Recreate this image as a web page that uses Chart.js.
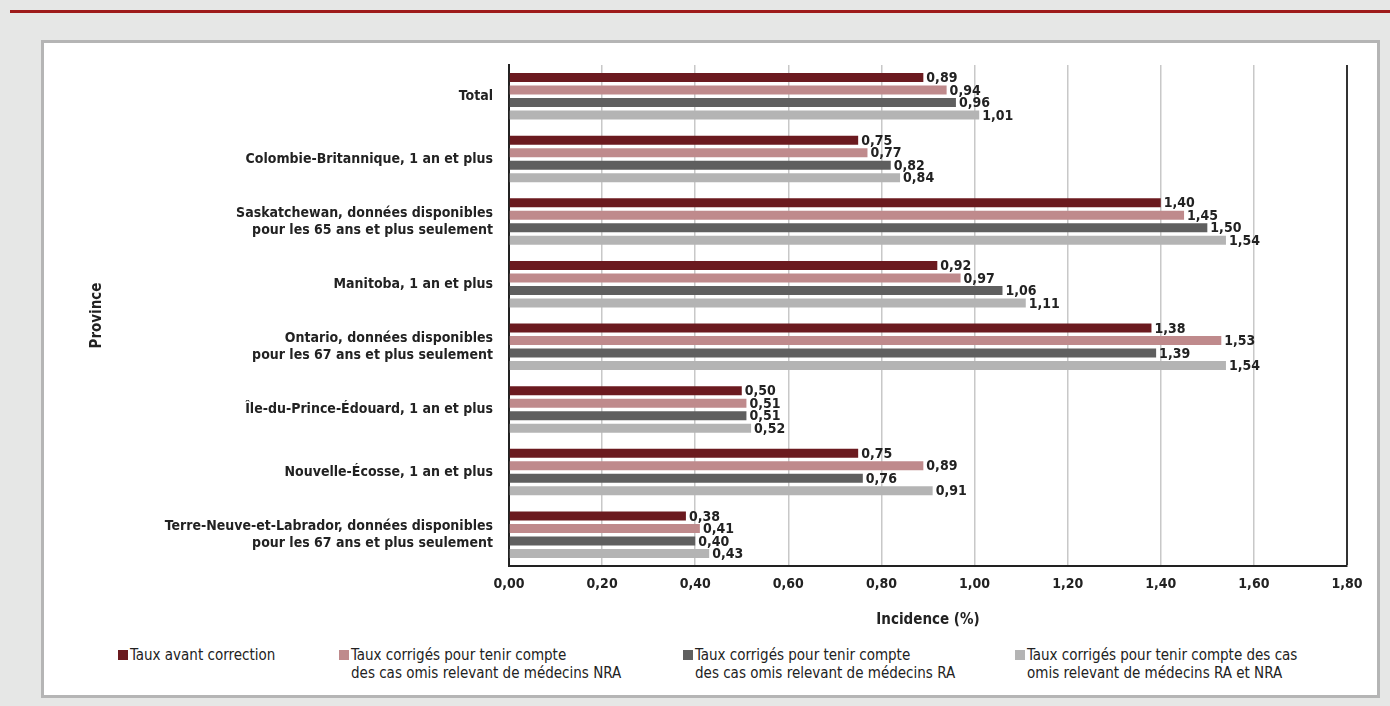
<!DOCTYPE html>
<html lang="fr">
<head>
<meta charset="utf-8">
<script src="https://cdn.jsdelivr.net/npm/chart.js@4.4.1/dist/chart.umd.min.js"></script>
<style>
  body { margin: 0; width: 1390px; height: 706px; background: #e6e7e6; position: relative; overflow: hidden;
         font-family: 'Liberation Sans Narrow', 'DejaVu Sans Condensed', sans-serif; }
  .topline { position: absolute; left: 10px; right: 0; top: 10px; height: 3px; background: #9e1b1b; }
  .panel { position: absolute; left: 41px; top: 40px; width: 1333px; height: 652px; background: #fff;
           border: 3px solid #b5b5b5; }
  #wrap { position: absolute; left: 0; top: 0; width: 1333px; height: 597px; }
  .leg { position: absolute; top: 603px; font-size: 15px; line-height: 18px; color: #222; }
  .leg .box { position: absolute; left: 0; top: 4px; width: 10px; height: 10px; }
  .leg .txt { margin-left: 12px; white-space: nowrap; }
</style>
</head>
<body>
<div class="topline"></div>
<div class="panel">
  <div id="wrap"><canvas id="chart"></canvas></div>
  <div id="legend"></div>
</div>
<script>
const categories = [
  ["Total"],
  ["Colombie-Britannique, 1 an et plus"],
  ["Saskatchewan, données disponibles", "pour les 65 ans et plus seulement"],
  ["Manitoba, 1 an et plus"],
  ["Ontario, données disponibles", "pour les 67 ans et plus seulement"],
  ["Île-du-Prince-Édouard, 1 an et plus"],
  ["Nouvelle-Écosse, 1 an et plus"],
  ["Terre-Neuve-et-Labrador, données disponibles", "pour les 67 ans et plus seulement"]
];

const tauxAvant = [0.89, 0.75, 1.40, 0.92, 1.38, 0.50, 0.75, 0.38];
const corrigesNRA = [0.94, 0.77, 1.45, 0.97, 1.53, 0.51, 0.89, 0.41];
const corrigesRA = [0.96, 0.82, 1.50, 1.06, 1.39, 0.51, 0.76, 0.40];
const corrigesRAetNRA = [1.01, 0.84, 1.54, 1.11, 1.54, 0.52, 0.91, 0.43];

const seriesLabels = [
  ["Taux avant correction"],
  ["Taux corrigés pour tenir compte", "des cas omis relevant de médecins NRA"],
  ["Taux corrigés pour tenir compte", "des cas omis relevant de médecins RA"],
  ["Taux corrigés pour tenir compte des cas", "omis relevant de médecins RA et NRA"]
];
const seriesColors = ["#6b1a1f", "#bf8a8c", "#5f5f5f", "#b4b4b4"];

const xMin = 0, xMax = 1.8, xStep = 0.2;

const FONT = "'Liberation Sans Narrow', 'DejaVu Sans Condensed', sans-serif";
const fmt = v => v.toFixed(2).replace(".", ",");

// legend in html, multi-line entries
const legendX = [74, 295, 639, 971];
const legend = document.getElementById("legend");
seriesLabels.forEach((lines, i) => {
  const div = document.createElement("div");
  div.className = "leg";
  div.style.left = legendX[i] + "px";
  div.innerHTML = `<span class="box" style="background:${seriesColors[i]}"></span>` +
    `<div class="txt">${lines.join("<br>")}</div>`;
  legend.appendChild(div);
});

const valueLabels = {
  id: "valueLabels",
  afterDatasetsDraw(chart) {
    const ctx = chart.ctx;
    ctx.save();
    ctx.font = "bold 14px " + FONT;
    ctx.fillStyle = "#222";
    ctx.textBaseline = "middle";
    ctx.textAlign = "left";
    chart.data.datasets.forEach((ds, i) => {
      chart.getDatasetMeta(i).data.forEach((bar, j) => {
        ctx.fillText(fmt(ds.data[j]), bar.x + 3, bar.y + 1);
      });
    });
    ctx.restore();
  }
};

const allSeries = [tauxAvant, corrigesNRA, corrigesRA, corrigesRAetNRA];

new Chart(document.getElementById("chart"), {
  type: "bar",
  data: {
    labels: categories,
    datasets: allSeries.map((vals, i) => ({
      label: seriesLabels[i].join(" "),
      data: vals,
      backgroundColor: seriesColors[i],
      categoryPercentage: 0.8,
      barPercentage: 0.72
    }))
  },
  options: {
    indexAxis: "y",
    responsive: true,
    maintainAspectRatio: false,
    animation: false,
    layout: { padding: { top: 22, right: 30, left: 0, bottom: 0 } },
    plugins: {
      legend: { display: false },
      tooltip: { enabled: false }
    },
    scales: {
      x: {
        min: xMin,
        max: xMax,
        afterFit(scale) { scale.height = 74; },
        ticks: {
          stepSize: xStep,
          padding: 10,
          color: "#222",
          font: { family: FONT, size: 14, weight: "bold" },
          callback: v => fmt(v)
        },
        grid: {
          drawTicks: false,
          color: ctx => (ctx.tick && Math.abs(ctx.tick.value - xMax) < 1e-6) ? "#333" : "#c8c8c8",
          lineWidth: ctx => (ctx.tick && Math.abs(ctx.tick.value - xMax) < 1e-6) ? 2 : 1.5
        },
        border: { display: true, color: "#222", width: 2 },
        title: {
          display: true,
          text: "Incidence (%)",
          color: "#222",
          font: { family: FONT, size: 15, weight: "bold" },
          padding: { bottom: 11 }
        }
      },
      y: {
        afterFit(scale) {
          scale.width = 465;
          scale.paddingTop = 0;
          scale.paddingBottom = 0;
        },
        ticks: {
          padding: 16,
          color: "#222",
          font: { family: FONT, size: 14, weight: "bold" }
        },
        grid: { display: false, drawTicks: false },
        border: { display: true, color: "#222", width: 2 },
        title: {
          display: true,
          text: "Province",
          color: "#222",
          font: { family: FONT, size: 15, weight: "bold" },
          padding: { top: 44 }
        }
      }
    }
  },
  plugins: [valueLabels]
});
</script>
</body>
</html>
